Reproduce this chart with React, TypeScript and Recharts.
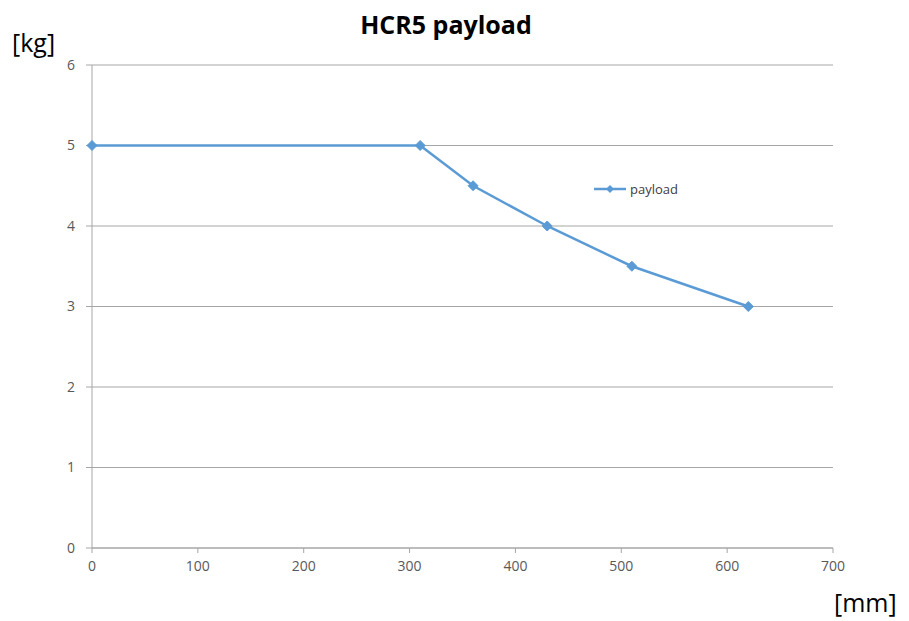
import React from "react";
import { LineChart, Line, XAxis, YAxis, CartesianGrid } from "recharts";

const reachMm = [0, 310, 360, 430, 510, 620];
const payloadKg = [5, 5, 4.5, 4, 3.5, 3];
const xTicks = [0, 100, 200, 300, 400, 500, 600, 700];
const yTicks = [0, 1, 2, 3, 4, 5, 6];

const data = reachMm.map((x, i) => ({ x, payload: payloadKg[i] }));

const LINE = "#5b9bd5";
const FONT = "'Open Sans', 'Noto Sans', sans-serif";

const Diamond = (props: any) => {
  const { cx, cy } = props;
  if (cx == null || cy == null) return null;
  const r = 5;
  return (
    <polygon
      points={`${cx},${cy - r} ${cx + r},${cy} ${cx},${cy + r} ${cx - r},${cy}`}
      fill={LINE}
      stroke={LINE}
    />
  );
};

// legend sits inside the plot, so it is drawn outside the chart's layout
const LegendBox = () => (
  <div
    style={{
      position: "absolute",
      top: 180,
      left: 592,
      display: "flex",
      alignItems: "center",
      fontFamily: FONT,
      fontSize: 13,
      color: "#404040",
    }}
  >
    <svg width={36} height={12}>
      <line x1={2} y1={6} x2={34} y2={6} stroke={LINE} strokeWidth={2.5} />
      <polygon points="18,2 22,6 18,10 14,6" fill={LINE} />
    </svg>
    <span style={{ marginLeft: 2 }}>payload</span>
  </div>
);

export default function App() {
  return (
    <div style={{ position: "absolute", left: 0, top: 0, width: 909, height: 621, background: "#fff" }}>
      <LineChart
        width={909}
        height={621}
        data={data}
        margin={{ top: 65, right: 76, bottom: 43, left: 52 }}
      >
        <CartesianGrid vertical={false} stroke="#a6a6a6" strokeWidth={1} />
        <XAxis
          dataKey="x"
          type="number"
          domain={[0, 700]}
          ticks={xTicks}
          height={30}
          stroke="#a6a6a6"
          tickSize={5}
          tick={{ fill: "#595959", fontSize: 14, fontFamily: FONT }}
          tickMargin={8}
        />
        <YAxis
          type="number"
          domain={[0, 6]}
          ticks={yTicks}
          width={40}
          stroke="#a6a6a6"
          tickSize={6}
          tick={{ fill: "#595959", fontSize: 14, fontFamily: FONT }}
          tickMargin={11}
        />
        <Line
          dataKey="payload"
          stroke={LINE}
          strokeWidth={2.5}
          dot={<Diamond />}
          activeDot={false}
          isAnimationActive={false}
        />
      </LineChart>
      <div
        style={{
          position: "absolute",
          top: 7,
          left: 0,
          width: 892,
          textAlign: "center",
          fontFamily: FONT,
          fontWeight: 700,
          fontSize: 25,
          color: "#000",
        }}
      >
        HCR5 payload
      </div>
      <div style={{ position: "absolute", top: 25, left: 12, fontFamily: FONT, fontSize: 25, color: "#000" }}>
        [kg]
      </div>
      <div style={{ position: "absolute", top: 585, left: 834, fontFamily: FONT, fontSize: 25, color: "#000" }}>
        [mm]
      </div>
      <LegendBox />
    </div>
  );
}
